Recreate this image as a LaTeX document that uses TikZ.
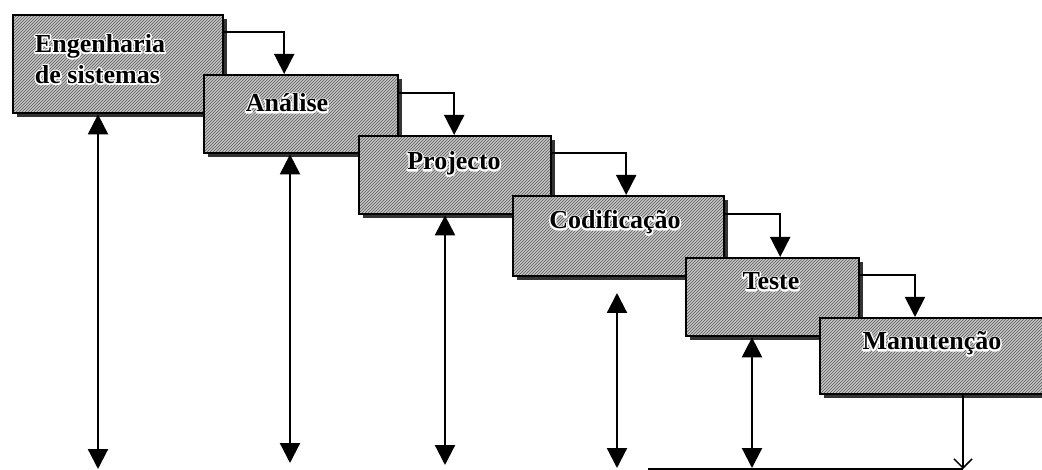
\documentclass[tikz,border=0pt]{standalone}
\usepackage{fontspec}
\setmainfont{Liberation Serif}
\usetikzlibrary{arrows.meta,patterns,shadows}
\newcommand\halotext[1]{\leavevmode\rlap{\special{pdf:literal direct 1 Tr 3 w 1 1 1 RG 1 j 1 J}#1\special{pdf:literal direct 0 Tr 0 G}}#1}
\begin{document}
\begin{tikzpicture}[x=1pt,y=-1pt,
  box/.style={draw=black, line width=2.4pt, anchor=north west, inner sep=0pt,
    drop shadow={shadow xshift=3.5pt, shadow yshift=-3.5pt, fill=black!80, opacity=1},
    preaction={fill=gray!45}, pattern=north east lines, pattern color=black!65},
  lbl/.style={font=\fontsize{26}{31}\selectfont\bfseries, inner sep=0pt, align=left},
  flow/.style={line width=1.8pt, -{Triangle[width=20pt,length=20pt]}},
  dbl/.style={line width=2.2pt, {Triangle[width=20pt,length=20pt]}-{Triangle[width=20pt,length=20pt]}},
  ret/.style={line width=1.5pt},
]
\clip (0,0) rectangle (1042,470);
\fill[white] (0,0) rectangle (1042,470);

% boxes
\node[box, minimum width=210pt, minimum height=98pt] (b1) at (12,14) {};
\node[lbl, anchor=center] (l1) at (100,59) {\halotext{Engenharia}\\\halotext{de sistemas}};
\node[box, minimum width=194pt, minimum height=78pt] (b2) at (203,74) {};
\node[lbl, anchor=base] (l2) at (287,112) {\halotext{Análise}};
\node[box, minimum width=192pt, minimum height=78pt] (b3) at (358,135) {};
\node[lbl, anchor=base] (l3) at (454,170) {\halotext{Projecto}};
\node[box, minimum width=211pt, minimum height=80pt] (b4) at (512,195) {};
\node[lbl, anchor=base] (l4) at (615,229) {\halotext{Codificação}};
\node[box, minimum width=173pt, minimum height=78pt] (b5) at (685,257) {};
\node[lbl, anchor=base] (l5) at (771,290) {\halotext{Teste}};
\node[box, minimum width=240pt, minimum height=76pt] (b6) at (819,317) {};
\node[lbl, anchor=base] (l6) at (932,350) {\halotext{Manutenção}};

% flow connectors
\draw[flow] ([yshift=-18pt]b1.north east) -| ([xshift=-17pt]b2.north);
\draw[flow] ([yshift=-19pt]b2.north east) -| ([xshift=-1pt]b3.north);
\draw[flow] ([yshift=-18pt]b3.north east) -| ([xshift=7.5pt]b4.north);
\draw[flow] ([yshift=-19pt]b4.north east) -| ([xshift=7.5pt]b5.north);
\draw[flow] ([yshift=-18pt]b5.north east) -| ([xshift=96pt]b6.north west);

% vertical double arrows
\coordinate (e1) at (98,469);
\coordinate (e2) at (290,463);
\coordinate (e3) at (445,465);
\coordinate (s4) at (617,293);
\coordinate (e4) at (617,468);
\coordinate (e5) at (752,468);
\coordinate (m1) at (963,469);
\coordinate (m0) at (648,469);
\draw[dbl] ([xshift=86pt]b1.south west) -- (e1);
\draw[dbl] ([xshift=87pt]b2.south west) -- (e2);
\draw[dbl] ([xshift=87pt]b3.south west) -- (e3);
\draw[dbl] (s4) -- (e4);
\draw[dbl] ([xshift=67pt]b5.south west) -- (e5);

% return line from Manutencao
\draw[ret, -{Straight Barb[length=9pt,width=18pt]}] ([xshift=144pt]b6.south west) -- (m1);
\draw[ret] (m1) -- (m0);
\end{tikzpicture}
\end{document}
